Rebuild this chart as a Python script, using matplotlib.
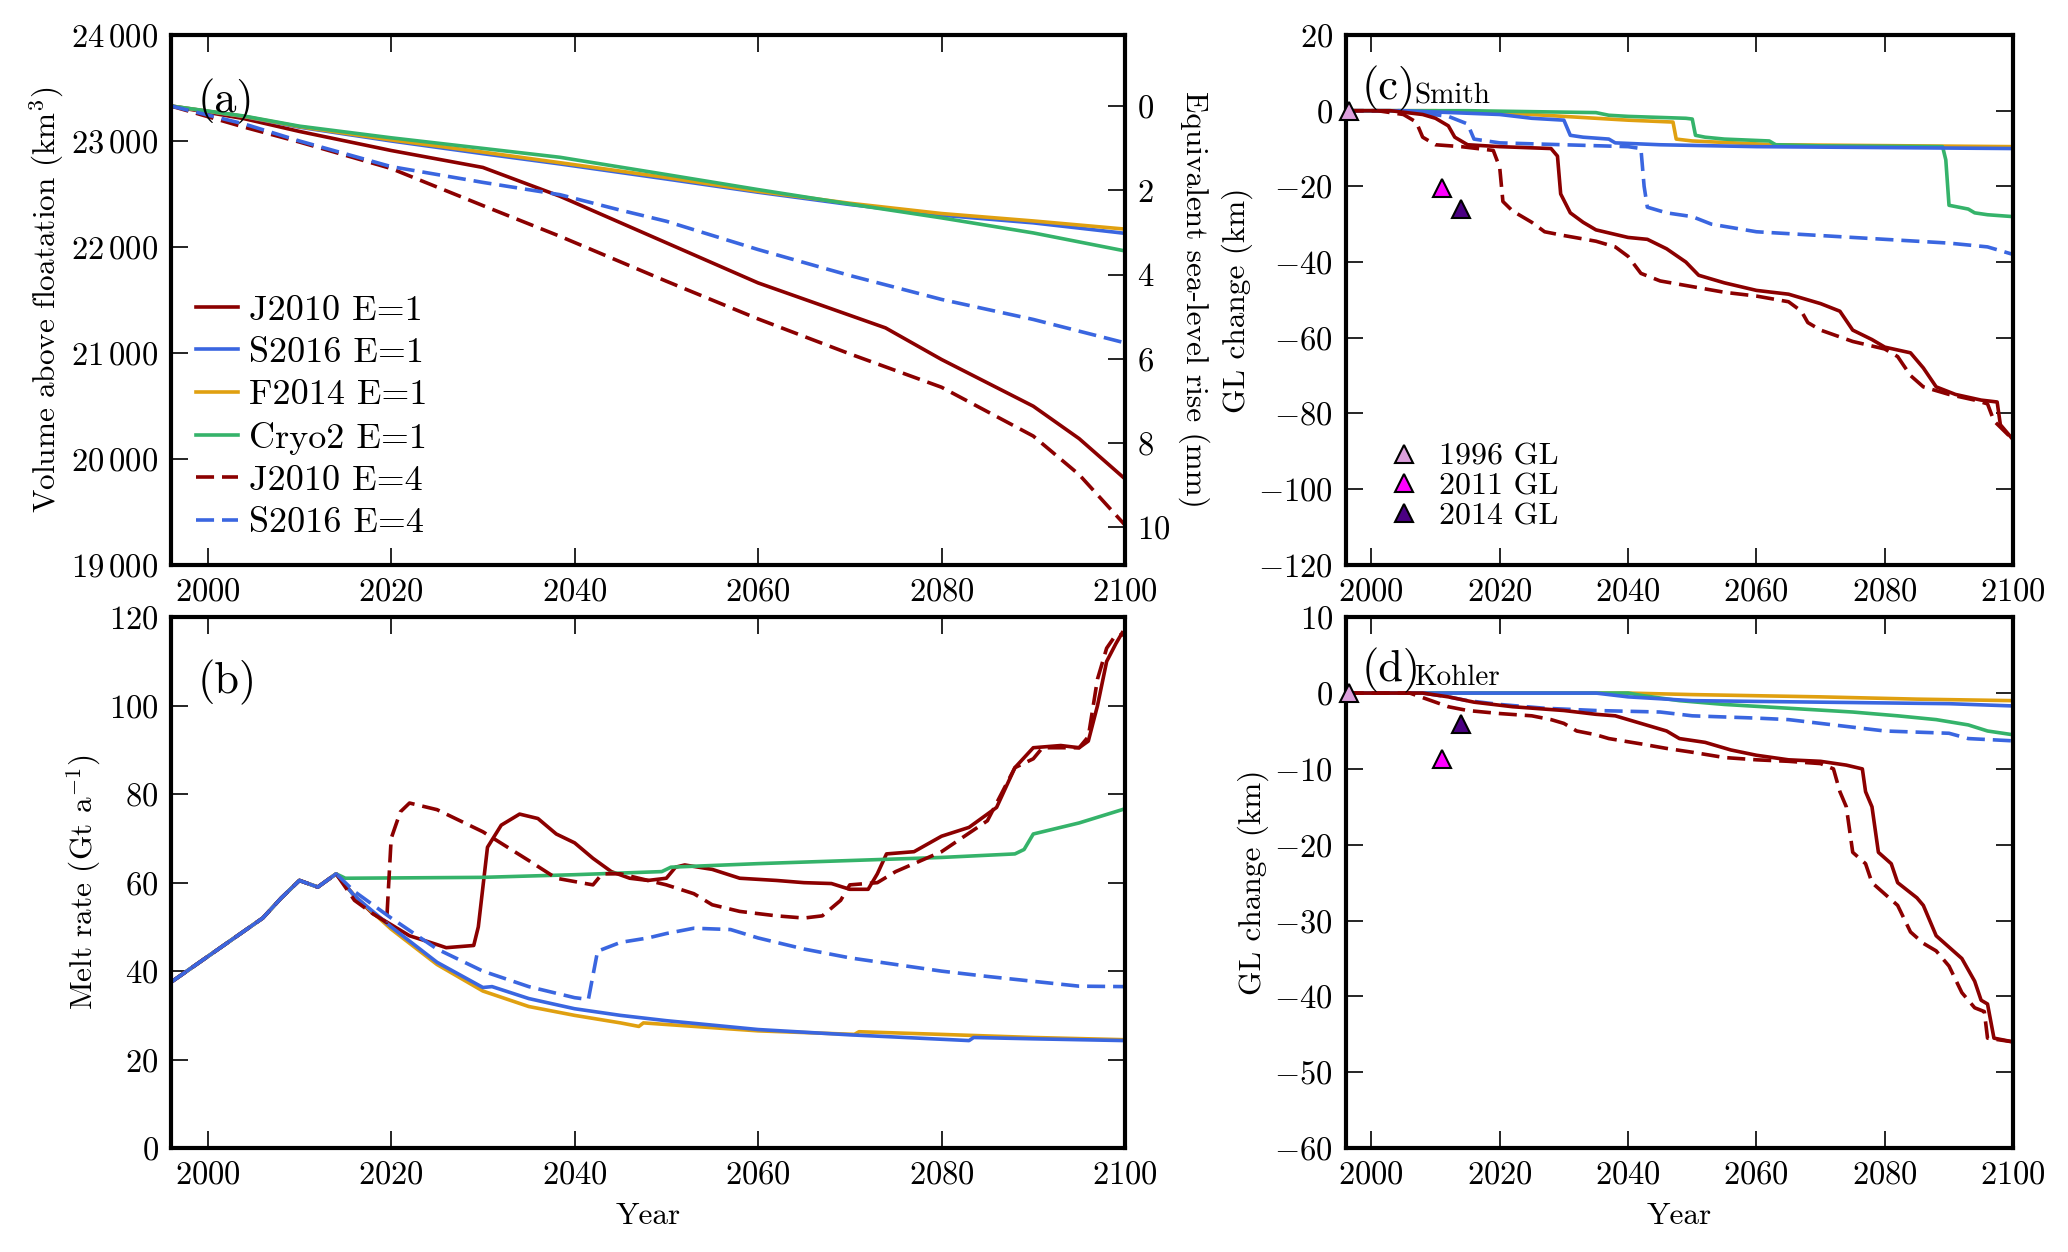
import matplotlib
matplotlib.use('Agg')
import matplotlib.pyplot as plt
from matplotlib.ticker import FuncFormatter, MultipleLocator

plt.rcParams['font.family'] = ['cmr10', 'DejaVu Serif']
plt.rcParams['mathtext.fontset'] = 'cm'
plt.rcParams['axes.formatter.use_mathtext'] = True
plt.rcParams['axes.unicode_minus'] = True

# colours of the runs
c_j = '#8b0000'
c_s = '#3a66e0'
c_f = '#e0a010'
c_c = '#35b36a'

# ---------------- (a) volume above floatation (km3) ----------------
a_j1_yr = [1996, 2004, 2010, 2020, 2030, 2038.4, 2060, 2073.9, 2080, 2090, 2095, 2100]
a_j1 = [23330, 23210, 23090, 22910, 22750, 22478, 21660, 21235, 20937, 20496, 20190, 19810]
a_j4_yr = [1996, 2004, 2010, 2020, 2030, 2038.4, 2050, 2060, 2070, 2080, 2090, 2095, 2100]
a_j4 = [23330, 23130, 22990, 22740, 22390, 22100, 21676, 21320, 20990, 20675, 20214, 19850, 19374]
a_s4_yr = [1996, 2004, 2010, 2020, 2030, 2038.4, 2044.8, 2050, 2060, 2070, 2080, 2090, 2100]
a_s4 = [23330, 23160, 23000, 22758, 22609, 22493, 22351, 22242, 21975, 21730, 21504, 21315, 21094]
a_s1_yr = [1996, 2004, 2010, 2020, 2030, 2038.4, 2050, 2060, 2070, 2080, 2090, 2100]
a_s1 = [23330, 23230, 23130, 23000, 22880, 22783, 22641, 22516, 22400, 22299, 22227, 22128]
a_f1_yr = [1996, 2004, 2010, 2020, 2030, 2038.4, 2050, 2060, 2070, 2080, 2090, 2100]
a_f1 = [23330, 23232, 23135, 23010, 22895, 22795, 22655, 22525, 22412, 22315, 22245, 22168]
a_c1_yr = [1996, 2004, 2010, 2020, 2030, 2038.4, 2050, 2060, 2070, 2080, 2090, 2100]
a_c1 = [23330, 23235, 23140, 23030, 22930, 22846, 22683, 22541, 22405, 22274, 22132, 21962]

# ---------------- (b) melt rate (Gt/a) ----------------
b_common_yr = [1996, 2006, 2008, 2010, 2012, 2014]
b_common = [37.5, 52, 56.5, 60.5, 59, 62]
b_c1_yr = b_common_yr + [2015, 2030, 2040, 2049.5, 2050.5, 2060, 2070, 2080, 2088, 2089, 2090, 2095, 2100]
b_c1 = b_common + [61, 61.2, 61.8, 62.5, 63.5, 64.3, 65, 65.7, 66.5, 67.5, 71, 73.5, 76.7]
b_s1_yr = b_common_yr + [2016, 2020, 2025, 2030, 2031, 2035, 2040, 2045, 2050, 2060, 2070, 2080, 2083, 2083.5, 2090, 2100]
b_s1 = b_common + [57, 50, 42, 36.3, 36.5, 33.8, 31.5, 30, 28.8, 26.8, 25.6, 24.6, 24.3, 25, 24.7, 24.3]
b_f1_yr = b_common_yr + [2016, 2020, 2025, 2030, 2035, 2040, 2045, 2047, 2047.5, 2060, 2070.5, 2071, 2080, 2090, 2100]
b_f1 = b_common + [57, 49.5, 41.5, 35.5, 32, 30, 28.3, 27.5, 28.3, 26.5, 25.7, 26.3, 25.7, 25, 24.5]
b_s4_yr = b_common_yr + [2016, 2020, 2025, 2030, 2035, 2040, 2041.5, 2042.5, 2045, 2048, 2050, 2053, 2057, 2060,
                         2065, 2070, 2075, 2080, 2085, 2090, 2095, 2100]
b_s4 = b_common + [58, 52, 45, 40, 36.5, 34, 33.6, 44.5, 46.5, 47.5, 48.5, 49.7, 49.4, 47.5,
                   45, 43, 41.5, 40, 38.8, 37.7, 36.6, 36.5]
b_j1_yr = b_common_yr + [2016, 2018, 2020, 2022, 2025, 2026, 2029, 2029.5, 2030.5, 2032, 2034, 2036, 2038, 2040,
                         2042, 2044, 2046, 2048, 2050, 2051, 2052, 2055, 2058, 2062, 2065, 2068, 2070, 2072,
                         2073, 2074, 2077, 2080, 2083, 2086, 2088, 2090, 2093, 2095, 2096, 2097, 2098, 2099, 2099.7]
b_j1 = b_common + [57, 53, 50.5, 48, 46, 45.3, 45.8, 50, 68, 73, 75.5, 74.5, 71, 69,
                   65.5, 62.5, 61, 60.5, 61, 63.5, 64, 63, 61, 60.5, 60, 59.8, 58.5, 58.5,
                   62, 66.5, 67, 70.5, 72.5, 77, 86, 90.5, 91, 90.5, 92, 100, 110, 114, 116.5]
b_j4_yr = b_common_yr + [2016, 2018, 2019.5, 2020, 2021, 2022, 2025, 2028, 2030, 2035, 2038, 2042, 2043, 2045,
                         2048, 2050, 2053, 2055, 2058, 2062, 2065, 2067, 2069, 2070, 2073, 2075, 2080, 2085,
                         2088, 2090, 2091, 2095, 2096, 2097, 2098, 2099, 2100]
b_j4 = b_common + [56, 53, 51, 70, 76, 78, 76.5, 73.5, 71.5, 65, 61, 59.5, 62, 62,
                   60.5, 59.5, 57.5, 55, 53.5, 52.5, 52, 52.5, 56, 59.5, 60, 62.5, 67, 74,
                   86, 88, 90.5, 90.5, 93, 106, 113, 116, 116]

# ---------------- (c) GL change Smith (km) ----------------
c_c1_yr = [1996, 2015, 2035, 2037, 2040, 2049, 2050, 2050.5, 2052, 2055, 2062, 2063, 2070, 2089, 2089.5, 2090,
           2093, 2094, 2096, 2100]
c_c1 = [0, 0, -0.5, -1.2, -1.5, -2, -2.2, -6.5, -7, -7.5, -8, -9, -9.3, -9.5, -13, -25, -26, -27, -27.5, -28]
c_f1_yr = [1996, 2010, 2020, 2030, 2040, 2047, 2047.5, 2050, 2063, 2100]
c_f1 = [0, 0, -0.5, -1.5, -2.5, -3, -7.5, -8, -9, -9.5]
c_s1_yr = [1996, 2005, 2020, 2025, 2030, 2031, 2033, 2037, 2038, 2045, 2060, 2100]
c_s1 = [0, 0, -1, -2, -2.5, -6.5, -7, -7.5, -8.5, -9, -9.5, -10]
c_s4_yr = [1996, 2005, 2012, 2015, 2016, 2020, 2030, 2040, 2042, 2042.5, 2043, 2046, 2050, 2053, 2060, 2070,
           2080, 2090, 2096, 2100]
c_s4 = [0, 0, -1.5, -3.5, -7.5, -8.5, -9, -9.5, -10, -20, -25.5, -27, -28, -30, -32, -33,
        -34, -35, -36, -38]
c_j1_yr = [1996, 2003, 2008, 2010, 2012, 2013, 2015, 2020, 2028, 2029, 2029.5, 2031, 2033, 2035, 2040, 2043,
           2046, 2049, 2051, 2055, 2060, 2065, 2070, 2073, 2075, 2078, 2080, 2084, 2086, 2088, 2091, 2095,
           2097.5, 2098, 2100]
c_j1 = [0, 0, -1, -2, -4, -7, -9, -9.5, -10, -12, -22, -27, -29.5, -31.5, -33.5, -34,
        -36.5, -40, -43.5, -45.5, -47.5, -48.5, -51, -53, -58, -60.5, -62.5, -64, -68, -73, -75, -76.5,
        -77, -83, -87]
c_j4_yr = [1996, 2001, 2005, 2007, 2008, 2010, 2014, 2019, 2020, 2020.5, 2022, 2025, 2027, 2030, 2035, 2038,
           2040, 2042, 2045, 2050, 2055, 2060, 2065, 2067, 2068, 2070, 2075, 2080, 2082, 2084, 2086, 2090,
           2094, 2096, 2097, 2100]
c_j4 = [0, 0, -1, -3, -7, -9, -9.5, -10.5, -15, -24, -26.5, -29.5, -32, -33, -34.5, -36,
        -38.5, -43, -45, -46.5, -48, -49, -50.5, -53, -56, -58, -61, -63, -65, -70, -73, -75,
        -76.5, -77.5, -82, -87]

# observed grounding lines (year, km)
obs_labels = ['1996 GL', '2011 GL', '2014 GL']
obs_colors = ['#dda0dd', '#ff00ff', '#4b0082']
obs_years = [1996.5, 2011, 2014]
obs_smith = [0, -20.5, -26]
obs_kohler = [0, -8.7, -4.1]

# ---------------- (d) GL change Kohler (km) ----------------
d_f1_yr = [1996, 2040, 2050, 2070, 2085, 2100]
d_f1 = [0, 0, -0.2, -0.5, -0.8, -1]
d_s1_yr = [1996, 2035, 2040, 2050, 2070, 2090, 2100]
d_s1 = [0, 0, -0.5, -1, -1.2, -1.4, -1.7]
d_c1_yr = [1996, 2040, 2042, 2048, 2055, 2065, 2075, 2082, 2088, 2093, 2096, 2100]
d_c1 = [0, 0, -0.3, -1, -1.5, -2, -2.5, -3, -3.5, -4.2, -5, -5.5]
d_s4_yr = [1996, 2008, 2012, 2015, 2020, 2027, 2035, 2045, 2050, 2060, 2065, 2070, 2075, 2080, 2090, 2093, 2100]
d_s4 = [0, 0, -0.5, -1, -1.5, -2, -2.3, -2.5, -3, -3.3, -3.5, -4, -4.5, -5, -5.3, -6, -6.3]
d_j1_yr = [1996, 2008, 2012, 2016, 2022, 2030, 2035, 2038, 2042, 2046, 2048, 2052, 2056, 2060, 2065, 2070,
           2074, 2076.5, 2077, 2078, 2079, 2081, 2082, 2085, 2086, 2088, 2090, 2092, 2094, 2095, 2096, 2097, 2100]
d_j1 = [0, 0, -0.5, -1.2, -1.8, -2.3, -2.8, -3, -4, -5, -6, -6.5, -7.5, -8.2, -8.8, -9,
        -9.5, -10, -13, -15, -21, -22.5, -25, -27, -28, -32, -33.5, -35, -38, -40.5, -41, -45.5, -46]
d_j4_yr = [1996, 2006, 2010, 2012, 2015, 2020, 2025, 2028, 2030, 2032, 2035, 2037, 2042, 2046, 2050, 2055,
           2060, 2065, 2070, 2072, 2073, 2074, 2075, 2077, 2078, 2080, 2082, 2084, 2086, 2088, 2090, 2092,
           2094, 2095.5, 2096, 2100]
d_j4 = [0, 0, -1.2, -1.8, -2.3, -2.7, -3, -3.5, -4, -5, -5.5, -6, -6.7, -7.3, -7.8, -8.5,
        -8.8, -9, -9.3, -10, -13, -15, -21, -22.5, -25, -26.5, -28, -31.5, -33, -34, -36, -39.5,
        -41.5, -42, -45.5, -46]

LW = 2.6
FS = 22.5
TFS = 23.5
dash = (5, 2.2)


def style(ax, right=True):
    ax.set_xlim(1996, 2100)
    ax.xaxis.set_major_locator(MultipleLocator(20))
    ax.tick_params(direction='in', length=12, width=1.2, labelsize=TFS, top=True, right=right, pad=9)
    for s in ax.spines.values():
        s.set_linewidth(3.0)


fig = plt.figure(figsize=(20.68, 12.52), dpi=100)
ax_a = fig.add_axes([0.0827, 0.549, 0.4613, 0.423])
ax_b = fig.add_axes([0.0827, 0.083, 0.4613, 0.424])
ax_c = fig.add_axes([0.6507, 0.549, 0.3228, 0.423])
ax_d = fig.add_axes([0.6507, 0.083, 0.3228, 0.424])

# (a)
ax_a.plot(a_j1_yr, a_j1, color=c_j, lw=LW, label='J2010 E=1')
ax_a.plot(a_s1_yr, a_s1, color=c_s, lw=LW, label='S2016 E=1')
ax_a.plot(a_f1_yr, a_f1, color=c_f, lw=LW, label='F2014 E=1')
ax_a.plot(a_c1_yr, a_c1, color=c_c, lw=LW, label='Cryo2 E=1')
ax_a.plot(a_j4_yr, a_j4, color=c_j, lw=LW, dashes=dash, label='J2010 E=4')
ax_a.plot(a_s4_yr, a_s4, color=c_s, lw=LW, dashes=dash, label='S2016 E=4')
ax_a.set_ylim(19000, 24000)
ax_a.yaxis.set_major_locator(MultipleLocator(1000))
ax_a.yaxis.set_major_formatter(FuncFormatter(lambda v, p: r'$%d\,%03d$' % (int(v) // 1000, int(v) % 1000)))
style(ax_a, right=False)
ax_a.set_ylabel(r'Volume above floatation (km$^3$)', fontsize=FS)
ax_a.legend(loc='lower left', bbox_to_anchor=(0.0, 0.0), frameon=False, fontsize=26,
            handlelength=1.15, handletextpad=0.3, labelspacing=0.28, borderaxespad=0.3)
ax_a.text(0.028, 0.875, '(a)', transform=ax_a.transAxes, fontsize=32, va='center')

# sea-level axis: 0 mm at 23327 km3, 397 km3 per mm
v0, per_mm = 23327, 397.0
ax_r = ax_a.twinx()
ax_r.set_ylim((v0 - 19000) / per_mm, (v0 - 24000) / per_mm)
ax_r.yaxis.set_major_locator(MultipleLocator(2))
ax_r.tick_params(direction='in', length=12, width=1.2, labelsize=TFS, pad=9)
ax_r.set_ylabel('Equivalent sea-level rise (mm)', fontsize=FS, rotation=270, labelpad=28)

# (b)
ax_b.plot(b_j1_yr, b_j1, color=c_j, lw=LW)
ax_b.plot(b_c1_yr, b_c1, color=c_c, lw=LW)
ax_b.plot(b_f1_yr, b_f1, color=c_f, lw=LW)
ax_b.plot(b_s1_yr, b_s1, color=c_s, lw=LW)
ax_b.plot(b_j4_yr, b_j4, color=c_j, lw=LW, dashes=dash)
ax_b.plot(b_s4_yr, b_s4, color=c_s, lw=LW, dashes=dash)
ax_b.set_ylim(0, 120)
ax_b.yaxis.set_major_locator(MultipleLocator(20))
style(ax_b)
ax_b.set_ylabel(r'Melt rate (Gt a$^{-1}$)', fontsize=FS)
ax_b.set_xlabel('Year', fontsize=FS, labelpad=9)
ax_b.text(0.028, 0.878, '(b)', transform=ax_b.transAxes, fontsize=32, va='center')


def gl_panel(ax, f1, s1, c1, j1, j4, s4, obs, ylim, step, name, letter, show_leg):
    ax.plot(*f1, color=c_f, lw=LW)
    ax.plot(*c1, color=c_c, lw=LW)
    ax.plot(*s1, color=c_s, lw=LW)
    ax.plot(*s4, color=c_s, lw=LW, dashes=dash)
    ax.plot(*j1, color=c_j, lw=LW)
    ax.plot(*j4, color=c_j, lw=LW, dashes=dash)
    for lab, col, yr, val in zip(obs_labels, obs_colors, obs_years, obs):
        ax.plot([yr], [val], linestyle='none', marker='^', markersize=13, markerfacecolor=col,
                markeredgecolor='black', markeredgewidth=1.5, label=lab, clip_on=False, zorder=5)
    ax.set_ylim(*ylim)
    ax.yaxis.set_major_locator(MultipleLocator(step))
    style(ax)
    ax.set_ylabel('GL change (km)', fontsize=FS)
    ax.text(0.024, 0.90, '(%s)' % letter, transform=ax.transAxes, fontsize=32, va='center')
    ax.text(0.103, 0.885, name, transform=ax.transAxes, fontsize=21, va='center')
    if show_leg:
        ax.legend(loc='lower left', bbox_to_anchor=(0.02, 0.01), frameon=False, fontsize=23,
                  handlelength=1.0, handletextpad=0.6, labelspacing=0.05, numpoints=1)


gl_panel(ax_c, (c_f1_yr, c_f1), (c_s1_yr, c_s1), (c_c1_yr, c_c1), (c_j1_yr, c_j1), (c_j4_yr, c_j4),
         (c_s4_yr, c_s4), obs_smith, (-120, 20), 20, 'Smith', 'c', True)
gl_panel(ax_d, (d_f1_yr, d_f1), (d_s1_yr, d_s1), (d_c1_yr, d_c1), (d_j1_yr, d_j1), (d_j4_yr, d_j4),
         (d_s4_yr, d_s4), obs_kohler, (-60, 10), 10, 'Kohler', 'd', False)
ax_d.set_xlabel('Year', fontsize=FS, labelpad=9)

fig.savefig('out.png', dpi=100)
